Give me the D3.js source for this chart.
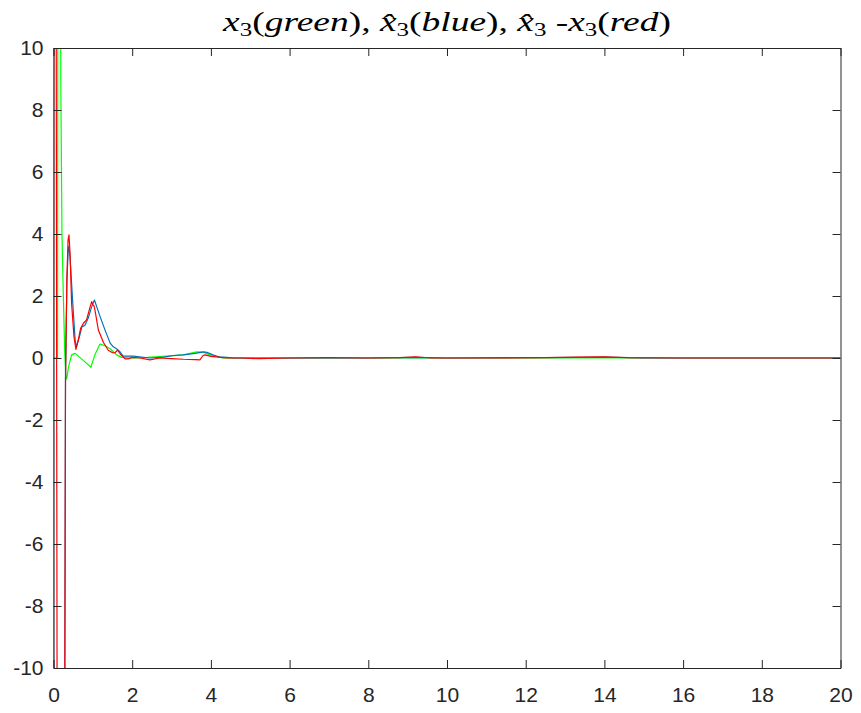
<!DOCTYPE html>
<html><head><meta charset="utf-8">
<script src="https://cdn.jsdelivr.net/npm/d3@7/dist/d3.min.js"></script>
<style>
html,body{margin:0;padding:0;background:#fff;}
svg{display:block;}
</style></head>
<body>
<script>
// ---------------- data ----------------
const xTicks = [0,2,4,6,8,10,12,14,16,18,20];
const yTicks = [-10,-8,-6,-4,-2,0,2,4,6,8,10];

// x3 (green)
const greenT = [0,0.105,0.125,0.16,0.185,0.215,0.25,0.285,0.31,0.335,0.38,0.46,0.55,0.75,0.95,1.05,1.18,1.3,1.44,1.6,1.73,2.03,2.4,2.88,3.3,3.64,3.8,3.98,4.3,5,8,12,16,20];
const greenV = [0,0,50,50,9,4.0,2.0,0.2,-0.55,-0.68,-0.3,0.1,0.15,-0.07,-0.3,0.1,0.45,0.4,0.3,0.1,0.02,0.0,0.02,0.06,0.1,0.2,0.19,0.1,0.0,0,0,0,0,0];

// x3 hat (blue)
const blueT = [0,0.02,0.26,0.28,0.305,0.34,0.37,0.388,0.42,0.49,0.55,0.58,0.66,0.72,0.8,0.88,0.97,1.04,1.1,1.18,1.31,1.44,1.52,1.6,1.69,1.77,1.9,2.03,2.45,2.8,3.05,3.3,3.6,3.81,3.9,4.05,4.2,4.4,4.6,6.0,8.0,9.2,10.0,13.5,14.0,15.0,20.0];
const blueV = [0,-60,-60,-15,-0.5,2.4,3.4,3.6,3.27,1.76,0.58,0.36,0.69,1.0,1.06,1.28,1.65,1.87,1.65,1.35,0.9,0.48,0.36,0.3,0.2,0.06,0.06,0.06,0.0,0.03,0.08,0.1,0.15,0.2,0.18,0.1,0.04,0.02,0.0,0.0,0.0,0.02,0.0,0.02,0.03,0.0,0.0];

// x3 hat - x3 (red)
const redT = [0,0.025,0.06,0.1,0.2,0.28,0.305,0.34,0.37,0.394,0.42,0.46,0.52,0.57,0.63,0.69,0.76,0.84,0.93,0.97,1.0,1.03,1.06,1.14,1.27,1.39,1.5,1.56,1.63,1.7,1.82,1.9,1.99,2.2,2.45,2.7,3.0,3.3,3.6,3.72,3.8,3.85,4.0,4.2,4.4,4.75,5.2,6.0,7.0,8.0,8.8,9.2,9.6,11.0,12.5,13.3,14.0,14.6,16.0,18.0,20.0];
const redV = [0,30,20,-20,-60,-14,-0.8,2.6,3.8,3.97,3.4,1.76,0.69,0.28,0.58,0.96,1.12,1.23,1.65,1.82,1.72,1.68,1.5,0.9,0.5,0.25,0.17,0.17,0.25,0.12,-0.03,-0.03,0.02,0.0,-0.06,0.0,-0.02,-0.04,-0.05,-0.06,0.08,0.1,0.05,0.03,0.0,0.0,-0.02,0.0,0.01,0.0,0.01,0.04,0.0,0.0,0.01,0.03,0.04,0.01,0.0,0.0,0.0];

const seriesColors = {green:"#00ff00", blue:"#0072bd", red:"#ff0000"};

// ---------------- drawing ----------------
const W = 861, H = 713;
const L = 53.5, R = 840.5, T = 48, B = 668;
const x = d3.scaleLinear().domain([0,20]).range([L,R]);
const y = d3.scaleLinear().domain([-10,10]).range([B,T]);
const axisColor = "#262626";
const tickFont = "'Liberation Sans', Arial, Helvetica, sans-serif";

const svg = d3.select("body").append("svg").attr("width",W).attr("height",H);
svg.append("rect").attr("width",W).attr("height",H).attr("fill","#fff");

svg.append("clipPath").attr("id","plotclip").append("rect")
  .attr("x",L).attr("y",T).attr("width",R-L).attr("height",B-T);

const zip = (ts, vs) => ts.map((t,i)=>[t, vs[i]]);
const line = d3.line().x(d=>x(d[0])).y(d=>y(d[1]));

const g = svg.append("g").attr("clip-path","url(#plotclip)");
[["green",greenT,greenV],["blue",blueT,blueV],["red",redT,redV]].forEach(([k,ts,vs])=>{
  g.append("path").datum(zip(ts,vs))
    .attr("fill","none").attr("stroke",seriesColors[k])
    .attr("stroke-width",1.2).attr("stroke-linejoin","round")
    .attr("d",line);
});

// axes (ticks inside, box)
const fmt = d => String(d);
const ax = (gen, tx, ty) => {
  const a = svg.append("g").attr("transform",`translate(${tx},${ty})`).call(gen);
  a.select(".domain").attr("stroke",axisColor);
  a.selectAll(".tick line").attr("stroke",axisColor);
  a.selectAll("text").attr("fill",axisColor).style("font-family",tickFont).style("font-size","21px");
  return a;
};
ax(d3.axisBottom(x).tickValues(xTicks).tickFormat(fmt).tickSizeInner(-8).tickSizeOuter(0).tickPadding(19), 0, B);
ax(d3.axisLeft(y).tickValues(yTicks).tickFormat(fmt).tickSizeInner(-8).tickSizeOuter(0).tickPadding(10), L, 0);
ax(d3.axisTop(x).tickValues(xTicks).tickFormat("").tickSizeInner(-8).tickSizeOuter(0), 0, T);
ax(d3.axisRight(y).tickValues(yTicks).tickFormat("").tickSizeInner(-8).tickSizeOuter(0), R, 0);

// title
const parts = [
  {t:"x",s:"i"},{t:"3",s:"sub"},{t:"(",s:"n"},{t:"green",s:"i"},{t:"), ",s:"n"},
  {t:"x\u0302",s:"i"},{t:"3",s:"sub"},{t:"(",s:"n"},{t:"blue",s:"i"},{t:"), ",s:"n"},
  {t:"x\u0302",s:"i"},{t:"3",s:"sub"},{t:" -",s:"n"},{t:"x",s:"i"},{t:"3",s:"sub"},{t:"(",s:"n"},{t:"red",s:"i"},{t:")",s:"n"}
];
const cx = (L+R)/2;
const title = svg.append("text").attr("x",cx).attr("y",31.5)
  .attr("text-anchor","middle").attr("fill","#000")
  .style("font-family","'Liberation Serif', 'Times New Roman', serif").style("font-size","27px");
let prevSub = false;
parts.forEach(p=>{
  const ts = title.append("tspan").text(p.t);
  if (p.s==="i") ts.style("font-style","italic");
  if (p.s==="sub") { ts.style("font-size","18px").attr("dy",5); prevSub = true; }
  else if (prevSub) { ts.attr("dy",-5); prevSub = false; }
});
const tw = title.node().getComputedTextLength();
const target = 448;
if (tw > 0) {
  const sx = target/tw;
  title.attr("transform",`translate(${cx},0) scale(${sx},1) translate(${-cx},0)`);
}
</script>
</body></html>
